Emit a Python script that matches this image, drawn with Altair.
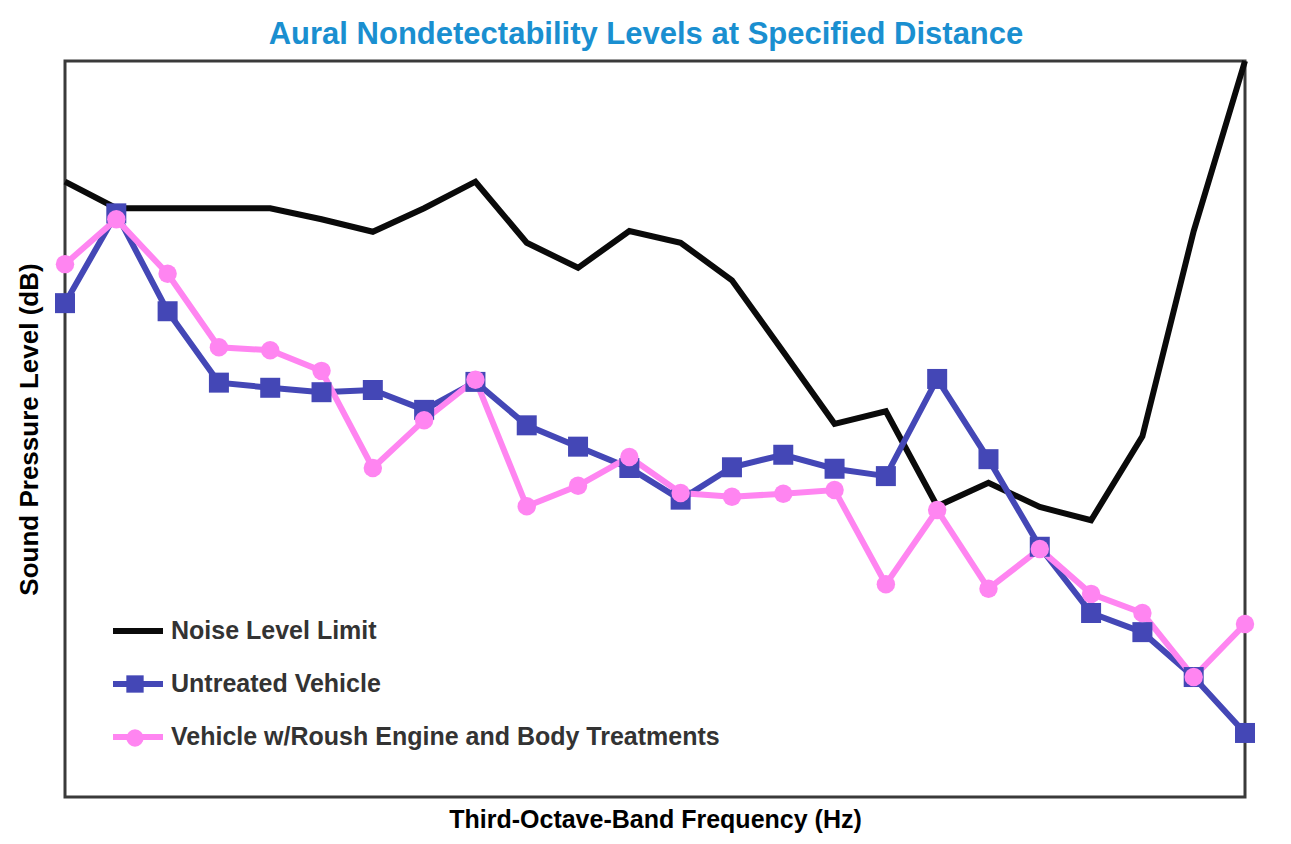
import altair as alt
import pandas as pd

# Third-octave band index (frequency labels are not shown in the original)
band = list(range(24))
series_names = [
    "Noise Level Limit",
    "Untreated Vehicle",
    "Vehicle w/Roush Engine and Body Treatments",
]
# Sound pressure level (relative dB)
noise = [83.6, 80.0, 80.0, 80.0, 80.0, 78.5, 76.8, 80.0, 83.6, 75.3, 71.9, 76.9,
         75.3, 70.2, 60.5, 50.7, 52.4, 39.5, 42.7, 39.4, 37.6, 49.0, 76.9, 100.0]
untreated = [67.1, 79.3, 66.0, 56.3, 55.6, 55.0, 55.3, 52.6, 56.4, 50.5, 47.6, 44.7,
             40.4, 44.8, 46.5, 44.6, 43.6, 56.8, 45.9, 34.0, 25.0, 22.4, 16.3, 8.7]
treated = [72.4, 78.5, 71.1, 61.1, 60.7, 57.9, 44.7, 51.2, 56.7, 39.5, 42.3, 46.2,
           41.3, 40.8, 41.2, 41.7, 28.9, 39.0, 28.3, 33.7, 27.6, 25.0, 16.3, 23.5]

colors = ["#0a0a0a", "#4447B6", "#FF85F1"]
FONT = "Liberation Sans"

rows = []
for name, vals in zip(series_names, [noise, untreated, treated]):
    for b, v in zip(band, vals):
        rows.append({"band": b, "spl": v, "series": name})
df = pd.DataFrame(rows)

x = alt.X(
    "band:Q",
    scale=alt.Scale(domain=[0, 23], nice=False, zero=False),
    axis=alt.Axis(
        title="Third-Octave-Band Frequency (Hz)",
        labels=False, ticks=False, domain=False, grid=False,
        titleFontSize=25, titleFontWeight="bold", titleColor="#000000",
        titleFont=FONT, titlePadding=10,
    ),
)
y = alt.Y(
    "spl:Q",
    scale=alt.Scale(domain=[0, 100], nice=False, zero=False),
    axis=alt.Axis(
        title="Sound Pressure Level (dB)",
        labels=False, ticks=False, domain=False, grid=False,
        titleFontSize=26, titleFontWeight="bold", titleColor="#000000",
        titleFont=FONT, titlePadding=23,
    ),
)

lines = alt.Chart(df).mark_line(strokeWidth=6).encode(
    x=x,
    y=y,
    color=alt.Color(
        "series:N",
        scale=alt.Scale(domain=series_names, range=colors),
        legend=alt.Legend(
            title=None, orient="none", legendX=45, legendY=542,
            symbolType="stroke", symbolSize=2500, symbolStrokeWidth=6,
            labelFontSize=25, labelFont=FONT, labelFontWeight="bold",
            labelColor="#333333", labelOffset=5, rowPadding=12, padding=0,
            labelLimit=800,
        ),
    ),
)

marker_legend = alt.Legend(
    title=None, orient="none", legendX=61, legendY=614,
    symbolSize=300, symbolStrokeWidth=0, labelExpr="''", labelFontSize=10,
    rowPadding=36, padding=0,
)

points = (
    alt.Chart(df)
    .transform_filter(alt.datum.series != "Noise Level Limit")
    .mark_point(filled=True, opacity=1)
    .encode(
        x=x,
        y=y,
        color=alt.Color(
            "series:N",
            scale=alt.Scale(domain=series_names[1:], range=colors[1:]),
            legend=marker_legend,
        ),
        shape=alt.Shape(
            "series:N",
            scale=alt.Scale(domain=series_names[1:], range=["square", "circle"]),
            legend=marker_legend,
        ),
        size=alt.Size(
            "series:N",
            scale=alt.Scale(domain=series_names[1:], range=[400, 340]),
            legend=None,
        ),
    )
)

chart = (
    alt.layer(lines, points)
    .resolve_scale(color="independent", shape="independent")
    .properties(
        width=1180,
        height=736,
        autosize=alt.AutoSizeParams(type="none"),
        padding={"left": 57, "top": 53, "right": 30, "bottom": 40},
        title=alt.Title(
            "Aural Nondetectability Levels at Specified Distance",
            fontSize=31, font=FONT, fontWeight="bold", color="#1a8fd0",
            anchor="middle", frame="group", offset=0, dy=2, dx=-9,
        ),
    )
    .configure(background="white")
    .configure_view(stroke="#3a3a3a", strokeWidth=3)
)

chart.save("out.html", embed_options={"renderer": "svg", "actions": False})
